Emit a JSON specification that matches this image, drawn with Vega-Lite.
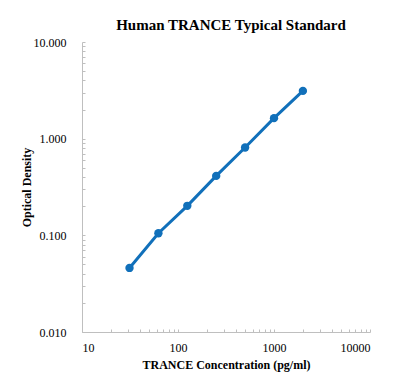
{
  "$schema": "https://vega.github.io/schema/vega-lite/v6.json",
  "width": 288,
  "height": 290,
  "autosize": {"type": "none"},
  "padding": {"left": 82, "top": 42, "right": 31, "bottom": 55},
  "background": "white",
  "config": {
    "view": {"stroke": null},
    "font": "Liberation Serif"
  },
  "title": {
    "text": "Human TRANCE Typical Standard",
    "font": "Liberation Serif",
    "fontSize": 15,
    "fontWeight": "bold",
    "color": "#000000",
    "anchor": "middle",
    "offset": 3,
    "dx": 5
  },
  "data": {
    "values": [
      {"conc": 31.25, "od": 0.046},
      {"conc": 62.5, "od": 0.105},
      {"conc": 125, "od": 0.202},
      {"conc": 250, "od": 0.412},
      {"conc": 500, "od": 0.81},
      {"conc": 1000, "od": 1.63},
      {"conc": 2000, "od": 3.12}
    ]
  },
  "encoding": {
    "x": {
      "field": "conc",
      "type": "quantitative",
      "scale": {"type": "log", "domain": [10, 10000], "nice": false},
      "axis": {
        "title": "TRANCE Concentration (pg/ml)",
        "titleFont": "Liberation Serif",
        "titleFontSize": 12,
        "titleFontWeight": "bold",
        "titleColor": "#000000",
        "titlePadding": 6,
        "values": [10, 20, 30, 40, 50, 60, 70, 80, 90, 100, 200, 300, 400, 500, 600, 700, 800, 900, 1000, 2000, 3000, 4000, 5000, 6000, 7000, 8000, 9000, 10000],
        "labelExpr": "indexof([10, 100, 1000, 10000], datum.value) >= 0 ? format(datum.value, 'd') : ''",
        "labelOverlap": false,
        "labelFont": "Liberation Serif",
        "labelFontSize": 12,
        "labelColor": "#000000",
        "labelPadding": 13,
        "tickSize": -3,
        "tickColor": "#bfbfbf",
        "domainColor": "#bfbfbf",
        "grid": false
      }
    },
    "y": {
      "field": "od",
      "type": "quantitative",
      "scale": {"type": "log", "domain": [0.01, 10], "nice": false},
      "axis": {
        "title": "Optical Density",
        "titleFont": "Liberation Serif",
        "titleFontSize": 12,
        "titleFontWeight": "bold",
        "titleColor": "#000000",
        "titlePadding": 0,
        "values": [0.01, 0.02, 0.03, 0.04, 0.05, 0.06, 0.07, 0.08, 0.09, 0.1, 0.2, 0.3, 0.4, 0.5, 0.6, 0.7, 0.8, 0.9, 1, 2, 3, 4, 5, 6, 7, 8, 9, 10],
        "labelExpr": "indexof([0.01, 0.1, 1, 10], datum.value) >= 0 ? format(datum.value, '.3f') : ''",
        "labelOverlap": false,
        "labelFont": "Liberation Serif",
        "labelFontSize": 12,
        "labelColor": "#000000",
        "labelPadding": 19,
        "tickSize": -3,
        "tickColor": "#bfbfbf",
        "domainColor": "#bfbfbf",
        "grid": false
      }
    }
  },
  "layer": [
    {"mark": {"type": "line", "color": "#1170BA", "strokeWidth": 3}},
    {"mark": {"type": "point", "filled": true, "color": "#1170BA", "size": 70, "opacity": 1}}
  ]
}
